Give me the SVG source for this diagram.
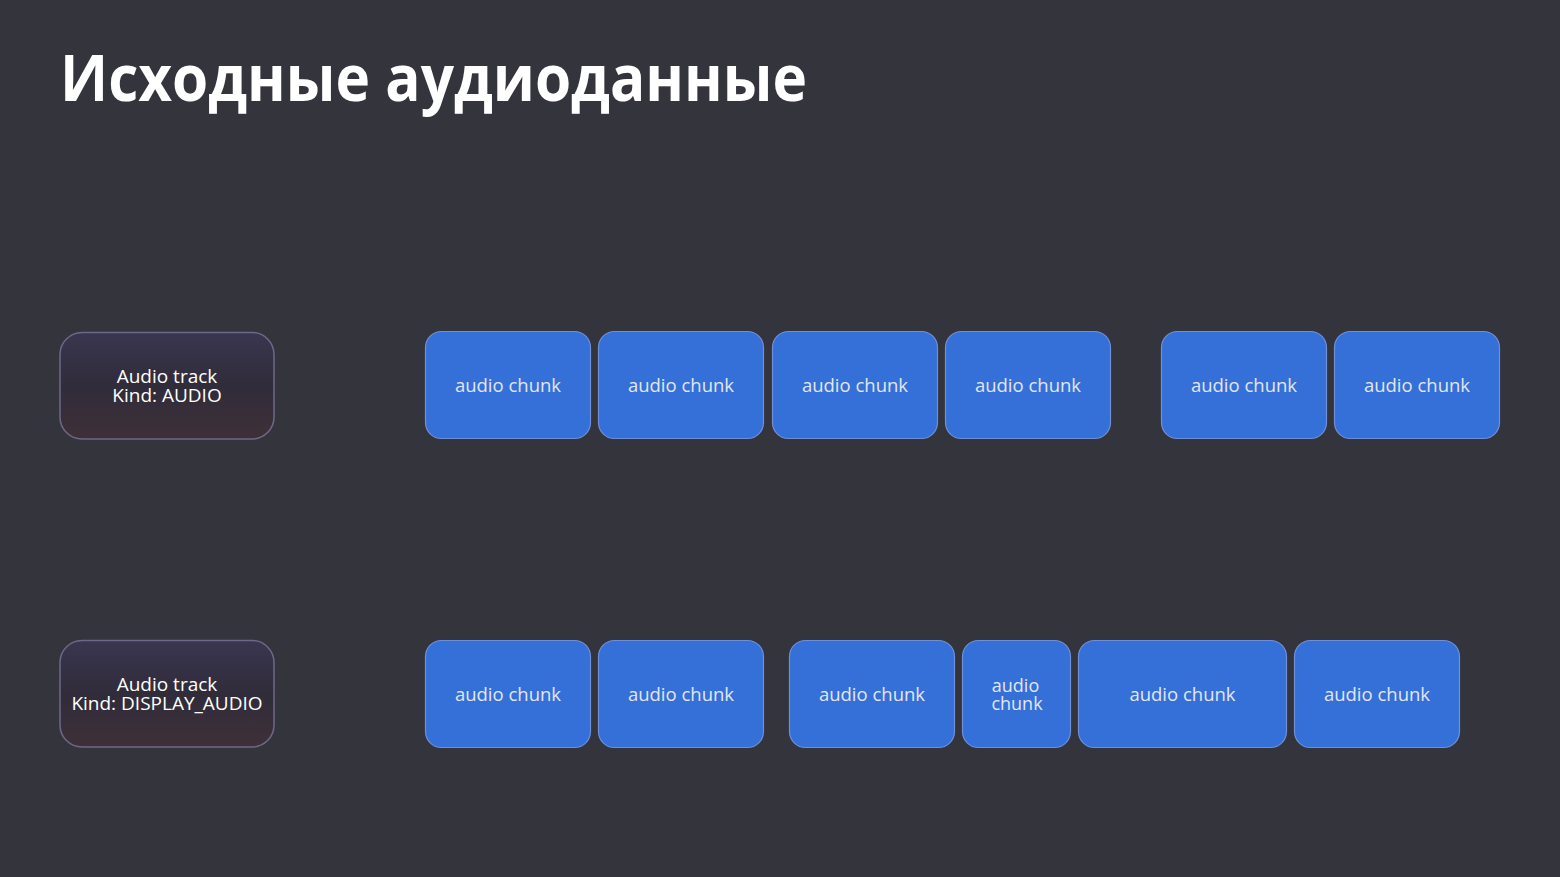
<svg xmlns="http://www.w3.org/2000/svg" width="1560" height="877" viewBox="0 0 1560 877">
<defs>
<linearGradient id="trk" x1="0" y1="0" x2="0" y2="1">
<stop offset="0" stop-color="#393650"/>
<stop offset="0.5" stop-color="#302c3a"/>
<stop offset="1" stop-color="#3e3038"/>
</linearGradient>
<style>
.track rect{fill:url(#trk);stroke:#6e6888;stroke-width:1.5}
.track text{font-family:"Open Sans","Liberation Sans",sans-serif;font-size:19px;fill:#ffffff;text-anchor:middle}
.chunk rect{fill:#3470d8;stroke:#6f8fd8;stroke-width:1.2}
.chunk text{font-family:"Open Sans","Liberation Sans",sans-serif;font-size:18.5px;fill:#e2e6ef;text-anchor:middle}
.chunk text.two{font-size:18px}
</style>
</defs>
<rect x="0" y="0" width="1560" height="877" fill="#34343d"/>
<text id="title" x="60" y="101" font-family="'Open Sans','Liberation Sans',sans-serif" font-weight="700" font-size="64" fill="#ffffff" textLength="747" lengthAdjust="spacingAndGlyphs">Исходные аудиоданные</text>
<g id="connectors"/>
<g id="track1" class="track"><rect x="60" y="332.5" width="214" height="106.5" rx="22"/><text x="167" y="382.5">Audio track</text><text x="167" y="402">Kind: AUDIO</text></g>
<g id="track2" class="track"><rect x="60" y="640.5" width="214" height="106.5" rx="22"/><text x="167" y="690.5">Audio track</text><text x="167" y="710">Kind: DISPLAY_AUDIO</text></g>
<g id="c1" class="chunk"><rect x="425.5" y="331.5" width="165" height="107" rx="16"/><text x="508" y="391.5">audio chunk</text></g>
<g id="c2" class="chunk"><rect x="598.5" y="331.5" width="165" height="107" rx="16"/><text x="681" y="391.5">audio chunk</text></g>
<g id="c3" class="chunk"><rect x="772.5" y="331.5" width="165" height="107" rx="16"/><text x="855" y="391.5">audio chunk</text></g>
<g id="c4" class="chunk"><rect x="945.5" y="331.5" width="165" height="107" rx="16"/><text x="1028" y="391.5">audio chunk</text></g>
<g id="c5" class="chunk"><rect x="1161.5" y="331.5" width="165" height="107" rx="16"/><text x="1244" y="391.5">audio chunk</text></g>
<g id="c6" class="chunk"><rect x="1334.5" y="331.5" width="165" height="107" rx="16"/><text x="1417" y="391.5">audio chunk</text></g>
<g id="d1" class="chunk"><rect x="425.5" y="640.5" width="165" height="107" rx="16"/><text x="508" y="700.5">audio chunk</text></g>
<g id="d2" class="chunk"><rect x="598.5" y="640.5" width="165" height="107" rx="16"/><text x="681" y="700.5">audio chunk</text></g>
<g id="d3" class="chunk"><rect x="789.5" y="640.5" width="165" height="107" rx="16"/><text x="872" y="700.5">audio chunk</text></g>
<g id="d4" class="chunk"><rect x="962.5" y="640.5" width="108" height="107" rx="16"/><text class="two" x="1015.5" y="691.5">audio</text><text class="two" x="1017" y="709.5">chunk</text></g>
<g id="d5" class="chunk"><rect x="1078.5" y="640.5" width="208" height="107" rx="16"/><text x="1182.5" y="700.5">audio chunk</text></g>
<g id="d6" class="chunk"><rect x="1294.5" y="640.5" width="165" height="107" rx="16"/><text x="1377" y="700.5">audio chunk</text></g>
</svg>
